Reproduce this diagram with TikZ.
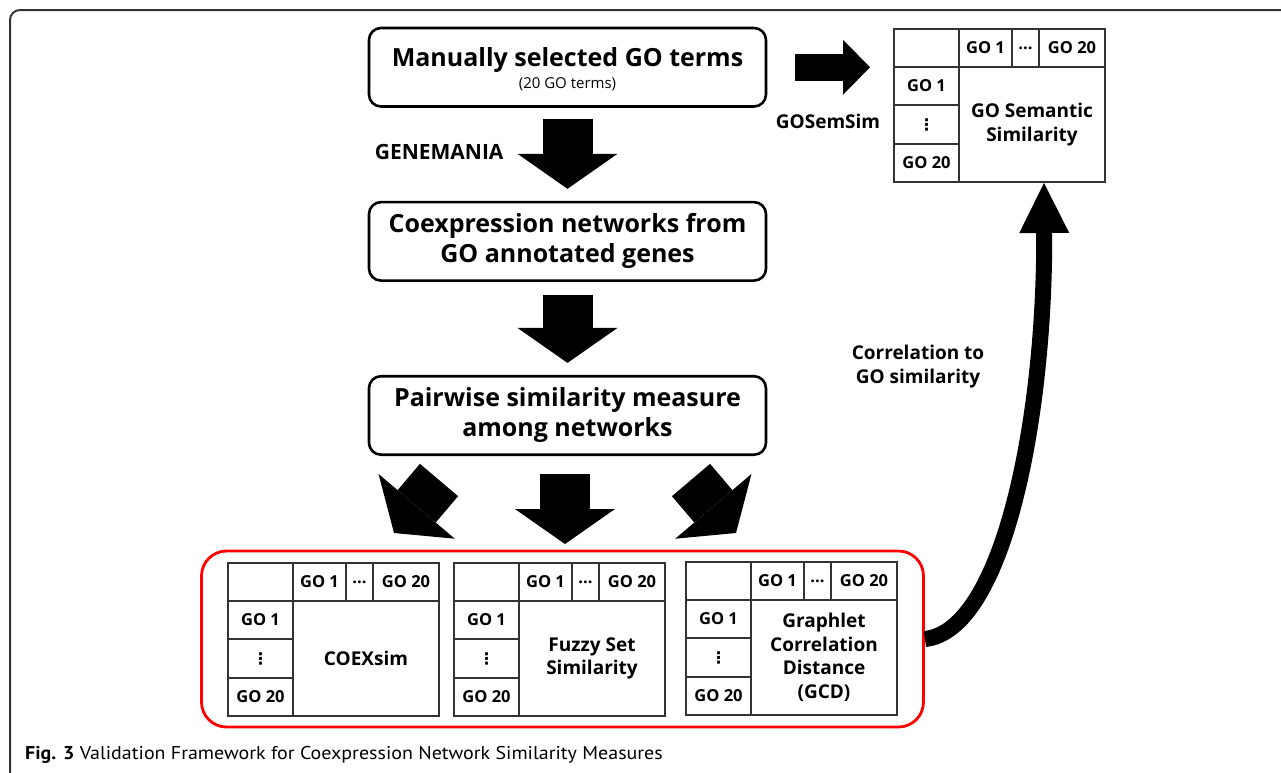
\documentclass[tikz,border=0pt]{standalone}
\usepackage{fontspec}
\setmainfont{Open Sans}
\newfontfamily\capfont[FakeStretch=1.08]{PT Sans}
\newfontfamily\symfont{DejaVu Sans}
\usetikzlibrary{arrows.meta,positioning,calc,fit}
\definecolor{rim}{HTML}{333333}
\definecolor{grpred}{HTML}{FF0000}
\tikzset{
  simtab/.pic={
    \draw[cell] (0,0) rectangle (211,153);
    \draw[cell] (65,0) -- (65,153) (0,38) -- (211,38) (0,76) -- (65,76)
      (0,115) -- (65,115) (118,0) -- (118,38) (145,0) -- (145,38);
    \node[hd] (-h1) at (91.5,19) {GO 1};
    \node[hd] (-hd) at (131.5,19) {...};
    \node[hd] (-hn) at (178,19) {GO 20};
    \node[hd] (-r1) at (32.5,57) {GO 1};
    \node[vd] (-rd) at (32.5,95.5) {⋮};
    \node[hd] (-rn) at (32.5,134) {GO 20};
    \node[big] (-lbl) at (138,95.5) {#1};
    \coordinate (-nw) at (0,0);
    \coordinate (-se) at (211,153);
  }}

\begin{document}
\begin{tikzpicture}[x=1pt,y=-1pt,
  node distance=93pt,
  box/.style={draw,line width=2.6pt,rounded corners=12pt,minimum width=397pt,
    minimum height=78.5pt,align=center,font=\bfseries\fontsize{25}{30}\selectfont},
  cell/.style={line width=1.3pt,draw=rim},
  hd/.style={inner sep=0pt,font=\bfseries\fontsize{16.5}{18}\selectfont},
  vd/.style={inner sep=0pt,font=\symfont\bfseries\fontsize{16}{16}\selectfont},
  big/.style={align=center,inner sep=1pt,font=\bfseries\fontsize{19}{23.5}\selectfont},
  lbl/.style={align=center,font=\bfseries\fontsize{19}{24}\selectfont},
  blk/.style={line width=50pt,-{Triangle[width=100pt,length=35pt,line width=0pt]}},
  blk2/.style={line width=27pt,-{Triangle[width=55pt,length=27pt,line width=0pt]}},
  curv/.style={line width=16pt,-{Triangle[width=50pt,length=50pt,line width=0pt]}},
  grp/.style={draw=grpred,line width=2.8pt,rounded corners=25pt,inner xsep=26.5pt,
    inner ysep=12pt}]
\useasboundingbox (0,0) rectangle (1281,772);
\draw[rim,line width=2pt,rounded corners=10pt] (1300,10) -- (10,10) -- (10,800);
\node[box] (sel) at (567.5,67.25) {\rule{0pt}{23pt}Manually selected GO terms\\[-8pt]
  {\mdseries\fontsize{15}{16}\selectfont (20 GO terms)}};
\node[box,below=of sel] (net) {Coexpression networks from\\GO annotated genes};
\node[box,below=of net] (pair) {Pairwise similarity measure\\among networks};
\pic (sem) at (894,29) {simtab={GO Semantic\\Similarity}};
\pic (coex) at (228,563) {simtab={COEXsim}};
\pic (fuzzy) at (454,563) {simtab={Fuzzy Set\\Similarity}};
\pic (gcd) at (686,562) {simtab={Graphlet\\Correlation\\Distance\\(GCD)}};
\node[grp,fit=(coex-nw)(gcd-se)] (grp) {};
\coordinate (simin) at ($(sem-se)+(-61,1)$);
\draw[blk,shorten <=11pt,shorten >=12pt] (sel) -- (net);
\draw[blk,shorten <=13pt,shorten >=12pt] (net) -- (pair);
\draw[blk2,shorten <=28pt,shorten >=24pt] (sel.east) -- (sel.east -| sem-nw);
\draw[blk] ($(pair.south)+(-128.5,24)$) -- ($(pair.south)+(-173.5,77)$);
\draw[blk] ($(pair.south)+(-2.5,18)$) -- ($(pair.south)+(-2.5,88)$);
\draw[blk] ($(pair.south)+(123.5,24)$) -- ($(pair.south)+(168.5,77)$);
\draw[curv] (grp.east) .. controls +(78,-8) and +(1,237) .. (simin);
\node[lbl,anchor=east,font=\bfseries\fontsize{21}{24}\selectfont] (genemania) at (507,152) {GENEMANIA};
\node[lbl] (gosemsim) at (828,121) {GOSemSim};
\node[lbl] (corr) at (918,367) {Correlation to\\GO similarity};
\node[anchor=west,inner sep=0pt,font=\capfont\fontsize{18.5}{20}\selectfont] (cap) at (25,755)
  {\textbf{Fig. 3} Validation Framework for Coexpression Network Similarity Measures};
\end{tikzpicture}
\end{document}
